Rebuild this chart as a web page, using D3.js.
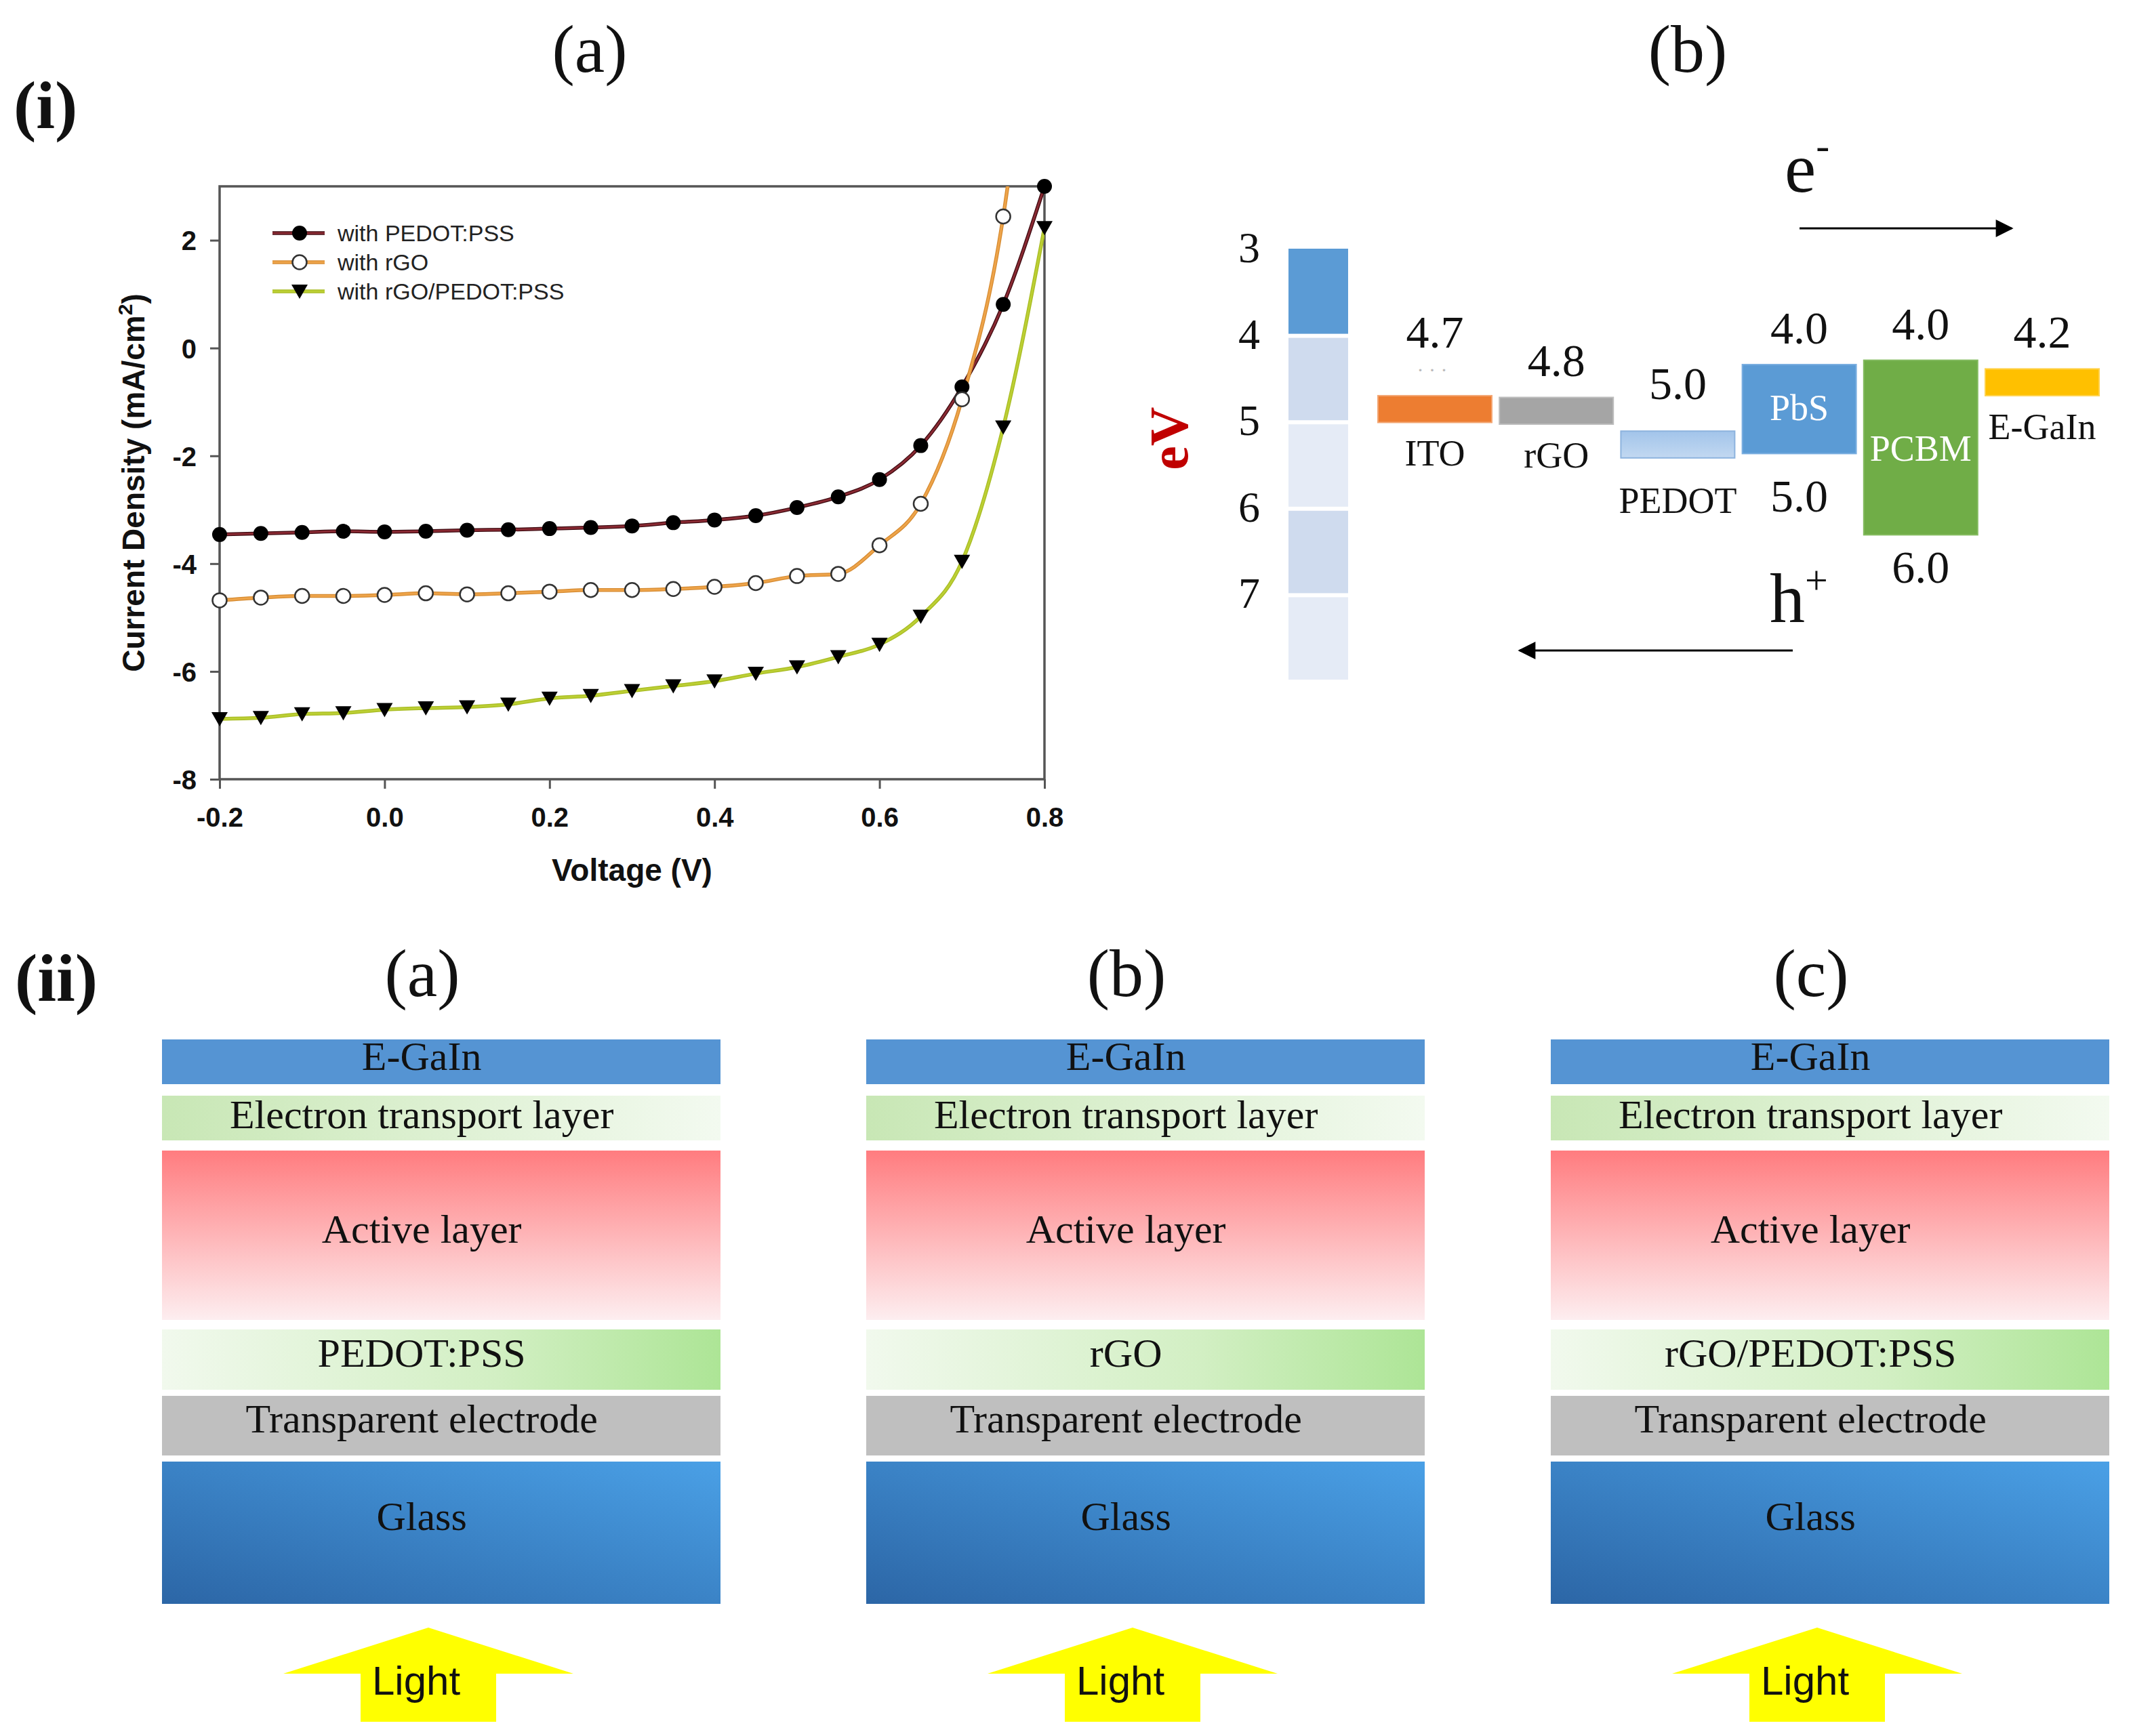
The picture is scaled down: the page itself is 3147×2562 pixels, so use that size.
<!DOCTYPE html>
<html><head><meta charset="utf-8">
<script src="https://cdn.jsdelivr.net/npm/d3@7"></script>
<style>body{margin:0;background:#fff}svg{display:block}</style>
</head><body>
<svg id="fig" width="3147" height="2562"></svg>
<script>
// ---------------- DATA ----------------
const voltage = [-0.2,-0.15,-0.1,-0.05,0.0,0.05,0.1,0.15,0.2,0.25,0.3,0.35,0.4,0.45,0.5,0.55,0.6,0.65,0.7,0.75,0.8];
const jPEDOT = [-3.46,-3.44,-3.42,-3.40,-3.41,-3.40,-3.38,-3.37,-3.35,-3.33,-3.30,-3.24,-3.19,-3.11,-2.96,-2.76,-2.44,-1.81,-0.72,0.81,3.0];
const jRGO = [-4.68,-4.63,-4.60,-4.60,-4.58,-4.55,-4.57,-4.55,-4.52,-4.49,-4.49,-4.47,-4.43,-4.36,-4.23,-4.19,-3.66,-2.89,-0.95,2.44,9.0];
const jRGOPEDOT = [-6.88,-6.86,-6.79,-6.77,-6.71,-6.68,-6.66,-6.61,-6.50,-6.45,-6.36,-6.27,-6.18,-6.04,-5.92,-5.73,-5.50,-4.98,-3.96,-1.47,2.23];
const seriesNames = ["with PEDOT:PSS","with rGO","with rGO/PEDOT:PSS"];
const xTicks = [-0.2,0.0,0.2,0.4,0.6,0.8];
const yTicks = [-8,-6,-4,-2,0,2];

const evTicks = [3,4,5,6,7];
const evSegments = [3,4,5,6,7];
const levelNames = ["ITO","rGO","PEDOT","PbS","PCBM","E-GaIn"];
const levelTopLabels = ["4.7","4.8","5.0","4.0","4.0","4.2"];
const levelBottomLabels = ["","","","5.0","6.0",""];
const levelDrawnTop = [4.70,4.72,5.11,4.34,4.29,4.39];
const levelDrawnBottom = [5.01,5.03,5.42,5.37,6.31,4.70];

const deviceTitles = ["(a)","(b)","(c)"];
const holeLayers = ["PEDOT:PSS","rGO","rGO/PEDOT:PSS"];
const stackNames = ["E-GaIn","Electron transport layer","Active layer","HTL","Transparent electrode","Glass"];

// ---------------- STYLE / LAYOUT ----------------
const SERIF = "'Liberation Serif','Times New Roman',serif";
const SANS = "'Liberation Sans',Arial,sans-serif";
const svg = d3.select("#fig");
svg.append("rect").attr("width",3147).attr("height",2562).attr("fill","#fff");
const defs = svg.append("defs");

function linGrad(id, x1,y1,x2,y2, stops){
  const g = defs.append("linearGradient").attr("id",id)
    .attr("x1",x1).attr("y1",y1).attr("x2",x2).attr("y2",y2);
  stops.forEach(s=>g.append("stop").attr("offset",s[0]).attr("stop-color",s[1]));
}
linGrad("etlG","0","0","1","0",[["0","#c8e7b5"],["1","#f3faf0"]]);
linGrad("htlG","0","0","1","0",[["0","#f1f9ed"],["0.6","#d2efc3"],["1","#ade596"]]);
linGrad("actG","0","0","0","1",[["0","#ff7c7f"],["1","#fdeef0"]]);
linGrad("glassG","0","1","1","0",[["0","#2c66a6"],["1","#4aa0e6"]]);
linGrad("pedotG","0","0","0","1",[["0","#a2c4ea"],["1","#c2d8f1"]]);

// ---------------- PANEL TITLES ----------------
function title(t, x, yb, bold, anchor){
  svg.append("text").attr("x",x).attr("y",yb).attr("text-anchor",anchor||"middle")
    .attr("font-family",SERIF).attr("font-size",100).attr("font-weight",bold?"bold":"normal")
    .attr("fill","#111").text(t);
}
title("(i)", 20, 189, true, "start");
title("(a)", 870, 106);
title("(b)", 2490, 106);
title("(ii)", 22, 1477, true, "start");

// ---------------- J-V CHART ----------------
const x = d3.scaleLinear().domain([-0.2,0.8]).range([324,1541]);
const y = d3.scaleLinear().domain([-8,3]).range([1150,275]);
const AX = "#555";

defs.append("clipPath").attr("id","plotClip").append("rect")
  .attr("x",x(-0.2)).attr("y",y(3)).attr("width",x(0.8)-x(-0.2)).attr("height",y(-8)-y(3));

const fmt1 = d3.format(".1f");
const gx = svg.append("g").attr("transform",`translate(0,${y(-8)})`)
  .call(d3.axisBottom(x).tickValues(xTicks).tickFormat(d=>fmt1(d).replace("\u2212","-")).tickSize(14).tickSizeOuter(0).tickPadding(28));
const gy = svg.append("g").attr("transform",`translate(${x(-0.2)},0)`)
  .call(d3.axisLeft(y).tickValues(yTicks).tickFormat(d=>String(d)).tickSize(14).tickSizeOuter(0).tickPadding(20));
[gx,gy].forEach(g=>{
  g.select(".domain").remove();
  g.selectAll(".tick line").attr("stroke",AX).attr("stroke-width",3);
  g.selectAll(".tick text").attr("font-family",SANS).attr("font-size",40).attr("font-weight","bold").attr("fill","#111");
});
gy.selectAll(".tick text").attr("dy","0.36em");

svg.append("rect").attr("x",x(-0.2)).attr("y",y(3)).attr("width",x(0.8)-x(-0.2)).attr("height",y(-8)-y(3))
  .attr("fill","none").attr("stroke",AX).attr("stroke-width",3.5);

svg.append("text").attr("x",(x(-0.2)+x(0.8))/2).attr("y",1300).attr("text-anchor","middle")
  .attr("font-family",SANS).attr("font-size",46).attr("font-weight","bold").attr("fill","#111").text("Voltage (V)");
const yt = svg.append("text").attr("transform",`translate(213,${(y(-8)+y(3))/2}) rotate(-90)`).attr("text-anchor","middle")
  .attr("font-family",SANS).attr("font-size",46).attr("font-weight","bold").attr("fill","#111");
yt.append("tspan").text("Current Density (mA/cm");
yt.append("tspan").attr("font-size",30).attr("dy",-18).text("2");
yt.append("tspan").attr("dy",18).text(")");

const series = [
  {name:seriesNames[0], vals:jPEDOT, color:"#8a2a33", edge:"#3d0a10", marker:"fcircle"},
  {name:seriesNames[1], vals:jRGO, color:"#eea44a", edge:"#d58a30", marker:"ocircle"},
  {name:seriesNames[2], vals:jRGOPEDOT, color:"#bccf34", edge:"#a7bb22", marker:"tri"}
];
const line = d3.line().x(d=>x(d[0])).y(d=>y(d[1])).curve(d3.curveMonotoneX);
const lg = svg.append("g").attr("clip-path","url(#plotClip)");
series.forEach(s=>{
  const pts = voltage.map((v,i)=>[v,s.vals[i]]);
  lg.append("path").attr("d",line(pts)).attr("fill","none").attr("stroke",s.edge).attr("stroke-width",5.5);
  lg.append("path").attr("d",line(pts)).attr("fill","none").attr("stroke",s.color).attr("stroke-width",3);
});
function drawMarker(g, type, cx, cy){
  if(type==="fcircle") g.append("circle").attr("cx",cx).attr("cy",cy).attr("r",11).attr("fill","#000");
  else if(type==="ocircle") g.append("circle").attr("cx",cx).attr("cy",cy).attr("r",10.5).attr("fill","#fff").attr("stroke","#333").attr("stroke-width",2.5);
  else g.append("path").attr("d",`M${cx-12},${cy-10}L${cx+12},${cy-10}L${cx},${cy+11}Z`).attr("fill","#000");
}
const mg = svg.append("g");
series.forEach(s=>{
  voltage.forEach((v,i)=>{ if(s.vals[i]<=3.001) drawMarker(mg, s.marker, x(v), y(s.vals[i])); });
});
// legend
series.forEach((s,i)=>{
  const ly = 344 + i*43;
  svg.append("line").attr("x1",402).attr("x2",479).attr("y1",ly).attr("y2",ly).attr("stroke",s.edge).attr("stroke-width",5.5);
  svg.append("line").attr("x1",402).attr("x2",479).attr("y1",ly).attr("y2",ly).attr("stroke",s.color).attr("stroke-width",3);
  drawMarker(svg, s.marker, 442, ly);
  svg.append("text").attr("x",498).attr("y",ly+12).attr("font-family",SANS).attr("font-size",34)
    .attr("fill","#222").text(s.name);
});

// ---------------- ENERGY DIAGRAM ----------------
const ev = d3.scaleLinear().domain([3,8]).range([367,1005]);
const colX = 1901, colW = 88;
const segColors = ["#5b9bd5","#cfdbee","#e5ebf6","#cfdbee","#e5ebf6"];
evSegments.forEach((v,i)=>{
  svg.append("rect").attr("x",colX).attr("y",ev(v)+(i?4:0)).attr("width",colW)
    .attr("height",ev(v+1)-ev(v)-(i?4:0)-2).attr("fill",segColors[i]);
});
evTicks.forEach(v=>{
  svg.append("text").attr("x",1843).attr("y",ev(v)+20).attr("text-anchor","middle")
    .attr("font-family",SERIF).attr("font-size",64).attr("fill","#111").text(v);
});
svg.append("text").attr("transform",`translate(1752,647) rotate(-90)`).attr("text-anchor","middle")
  .attr("font-family",SERIF).attr("font-size",80).attr("font-weight","bold").attr("fill","#c00000").text("eV");

const bx = d3.scaleBand().domain(levelNames).range([2033,3097]).paddingInner(0.0625);
const levelFill = ["#ed7d31","#a5a5a5","url(#pedotG)","#5b9bd5","#70ad47","#ffc000"];
const levelStroke = ["#f3a673","#bdbdbd","#8db3de","#7aaee0","#84bb60","#ffd24d"];
const topLift = {"ITO":94, "PEDOT":70};
levelNames.forEach((n,i)=>{
  const x0 = bx(n), w = bx.bandwidth();
  const t = ev(levelDrawnTop[i]), b = ev(levelDrawnBottom[i]);
  svg.append("rect").attr("x",x0).attr("y",t).attr("width",w).attr("height",b-t)
    .attr("fill",levelFill[i]).attr("stroke",levelStroke[i]).attr("stroke-width",2);
  const lift = topLift[n] || 54;
  svg.append("text").attr("x",x0+w/2).attr("y",t-lift+23).attr("text-anchor","middle")
    .attr("font-family",SERIF).attr("font-size",68).attr("fill","#111").text(levelTopLabels[i]);
  const inside = (b-t) > 80;
  if(inside){
    svg.append("text").attr("x",x0+w/2).attr("y",(n==="PbS"? t+64 : t+130)+18).attr("text-anchor","middle")
      .attr("font-family",SERIF).attr("font-size",54).attr("fill","#fff").text(n);
    svg.append("text").attr("x",x0+w/2).attr("y",b+(n==="PbS"?63:48)+23).attr("text-anchor","middle")
      .attr("font-family",SERIF).attr("font-size",68).attr("fill","#111").text(levelBottomLabels[i]);
  } else {
    const off = n==="PEDOT" ? 63 : 46;
    svg.append("text").attr("x",x0+w/2).attr("y",b+off+18).attr("text-anchor","middle")
      .attr("font-family",SERIF).attr("font-size",54).attr("fill","#111").text(n);
  }
});
svg.append("text").attr("x",2113).attr("y",556).attr("text-anchor","middle").attr("font-family",SERIF)
  .attr("font-size",30).attr("fill","#bbb").text("· · ·");

defs.append("marker").attr("id","ah").attr("viewBox","0 0 10 10").attr("refX",9).attr("refY",5)
  .attr("markerWidth",32).attr("markerHeight",26).attr("markerUnits","userSpaceOnUse")
  .attr("orient","auto").append("path").attr("d","M0,0L10,5L0,10Z").attr("fill","#000");
svg.append("line").attr("x1",2655).attr("x2",2968).attr("y1",337).attr("y2",337)
  .attr("stroke","#000").attr("stroke-width",3).attr("marker-end","url(#ah)");
svg.append("line").attr("x1",2645).attr("x2",2242).attr("y1",960).attr("y2",960)
  .attr("stroke","#000").attr("stroke-width",3).attr("marker-end","url(#ah)");
const et = svg.append("text").attr("x",2633).attr("y",283).attr("font-family",SERIF).attr("font-size",104).attr("fill","#111");
et.append("tspan").text("e");
et.append("tspan").attr("font-size",60).attr("dy",-48).text("-");
const ht = svg.append("text").attr("x",2611).attr("y",918).attr("font-family",SERIF).attr("font-size",104).attr("fill","#111");
ht.append("tspan").text("h");
ht.append("tspan").attr("font-size",60).attr("dy",-42).text("+");

// ---------------- DEVICE STACKS ----------------
const panelLeft = [239,1278,2288];
const panelW = 824;
const stackTop = [1534,1617,1698,1962,2060,2157];
const stackBot = [1600,1683,1948,2051,2148,2367];
const stackFill = ["#5594d3","url(#etlG)","url(#actG)","url(#htlG)","#bfbfbf","url(#glassG)"];
const textLift = [8,5,9,10,10,24];
deviceTitles.forEach((d,k)=>{
  const px = panelLeft[k], pw = panelW, cx = px+pw/2;
  title(d, cx-28, 1470);
  stackNames.forEach((n,i)=>{
    svg.append("rect").attr("x",px).attr("y",stackTop[i]).attr("width",pw).attr("height",stackBot[i]-stackTop[i])
      .attr("fill",stackFill[i]);
    const label = n==="HTL" ? holeLayers[k] : n;
    svg.append("text").attr("x",px+pw*0.465).attr("y",(stackTop[i]+stackBot[i])/2 - textLift[i] + 20)
      .attr("text-anchor","middle").attr("font-family",SERIF).attr("font-size",60).attr("fill","#111").text(label);
  });
  // light arrow
  const ac = cx-19, tip = 2402, base = 2470, bot = 2541, hw = 214, sw = 100;
  const pts = [[ac,tip],[ac+hw,base],[ac+sw,base],[ac+sw,bot],[ac-sw,bot],[ac-sw,base],[ac-hw,base]];
  svg.append("path").attr("d",d3.line()(pts)+"Z").attr("fill","#ffff00");
  svg.append("text").attr("x",ac-18).attr("y",2501).attr("text-anchor","middle")
    .attr("font-family",SANS).attr("font-size",60).attr("fill","#111").text("Light");
});
</script></body></html>
